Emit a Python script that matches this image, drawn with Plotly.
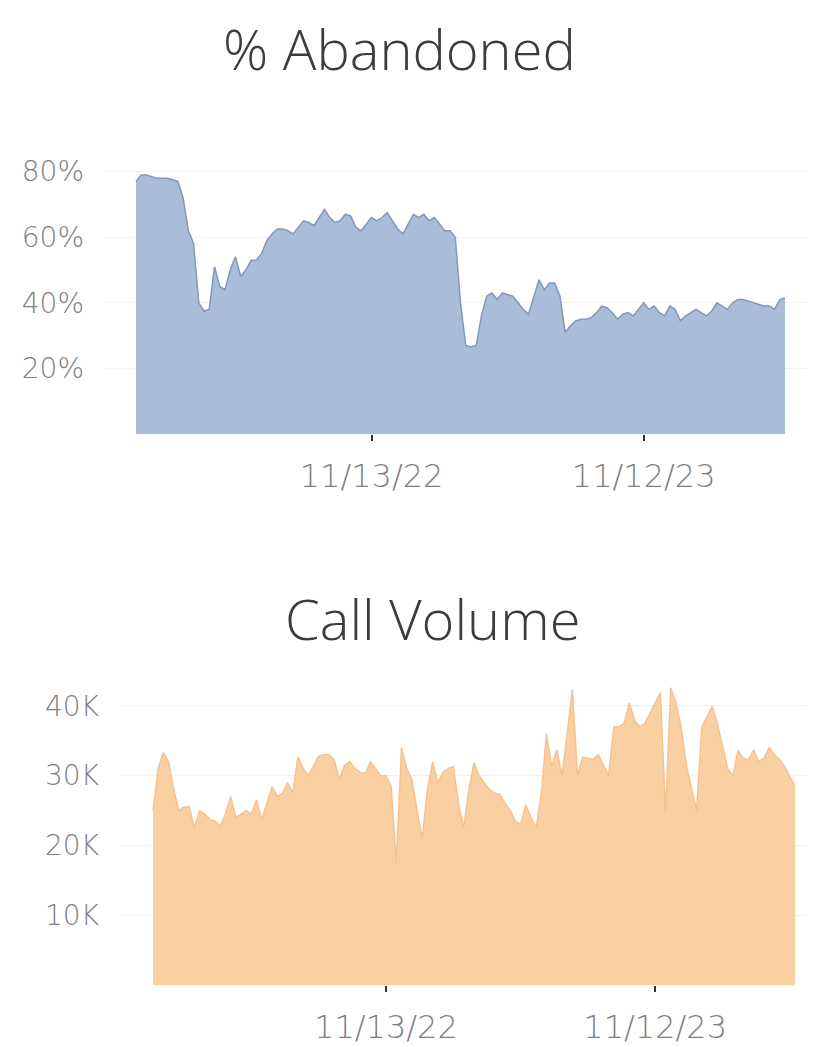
import pandas as pd
import plotly.graph_objects as go

# Weekly dates (week starting Sunday)
weeks = pd.date_range("2022-01-02", periods=125, freq="7D")

pct_abandoned = [
    77, 79, 79, 78.5, 78, 78, 78, 77.5, 77, 72,
    62, 58, 40, 37.5, 38, 51, 45, 44, 50, 54,
    48, 50, 53, 53, 55, 59, 61, 62.5, 62.5, 62,
    61, 63, 65, 64.5, 63.5, 66, 68.5, 66, 64.5, 65,
    67, 66.5, 63, 62, 64, 66, 65, 66, 67.5, 65,
    62.5, 61, 64, 67, 66, 67, 65, 66, 64, 62,
    62, 60, 40, 27, 26.5, 27, 36, 42, 43, 41,
    43, 42.5, 42, 40, 38, 36.5, 42, 47, 44, 46,
    46, 42, 31, 33, 34.5, 35, 35, 35.5, 37, 39,
    38.5, 37, 35, 36.5, 37, 36, 38, 40, 38, 39,
    37, 36, 39, 38, 34.5, 36, 37, 38, 37, 36,
    37.5, 40, 39, 38, 40, 41, 41, 40.5, 40, 39.5,
    39, 39, 38, 41, 41.5,
]

call_volume_k = [
    25, 31, 33.3, 32, 28, 25, 25.5, 25.5, 22.5, 25,
    24.5, 23.7, 23.5, 22.7, 24.5, 27, 24, 24.5, 25, 24.5,
    26.5, 23.7, 26, 28.4, 27, 27.5, 29, 27.5, 32.7, 31,
    30, 31.5, 32.8, 33, 33, 32.3, 29.4, 31.5, 32, 31,
    30.5, 30.3, 32, 31, 30, 30, 28.5, 17.5, 34, 31,
    29.5, 25, 21, 28, 32, 29, 30.5, 31, 31.3, 26,
    22.5, 28, 31.8, 30, 29, 28, 27.5, 27.3, 26, 25,
    23.5, 23, 25.8, 24, 22.5, 27.5, 36, 31.3, 33.7, 30,
    36, 42.3, 30, 32.7, 32.5, 32.3, 33, 31.5, 30, 37,
    37, 37.5, 40.4, 38, 37, 37.5, 39, 40.5, 41.9, 24.6,
    42.6, 40.5, 37, 31.5, 28, 25, 37, 38.5, 39.9, 37.5,
    34.4, 31, 30, 33.6, 32.5, 32.3, 33.7, 32, 32.5, 34,
    33, 32.3, 31.3, 30, 28.5,
]

tick_dates = ["2022-11-13", "2023-11-12"]
tick_labels = ["11/13/22", "11/12/23"]

abandoned = [v / 100 for v in pct_abandoned]
calls = [v * 1000 for v in call_volume_k]

# The page body has an 8px margin; size the figure to fit the window
OFF = 8
W, H = 814 - OFF, 1047 - OFF
TITLE_FONT = "Open Sans"
TICK_FONT = "DejaVu Sans"
TICK_COLOR = "#808080"
GRID = "#f0f0f0"

fig = go.Figure()

fig.add_trace(go.Scatter(
    x=weeks, y=abandoned, mode="lines", fill="tozeroy",
    line=dict(color="rgb(128,152,189)", width=1.5),
    fillcolor="rgb(170,189,216)",
    xaxis="x", yaxis="y", showlegend=False,
    hovertemplate="%{x|%m/%d/%y}: %{y:.0%}<extra></extra>",
))

fig.add_trace(go.Scatter(
    x=weeks, y=calls, mode="lines", fill="tozeroy",
    line=dict(color="rgb(246,194,144)", width=1.5),
    fillcolor="rgb(250,208,162)",
    xaxis="x2", yaxis="y2", showlegend=False,
    hovertemplate="%{x|%m/%d/%y}: %{y:,.0f}<extra></extra>",
))


def px_x(p):
    return (p - OFF) / W


def px_y(p):
    return 1 - (p - OFF) / H


# Top chart geometry (reference window pixels)
top_left, top_right, top_bottom, top_top = 105, 806, 434, 106
d0 = pd.Timestamp("2022-01-02")
wpx_top = (785 - 136) / 124.0
top_range = [d0 - pd.Timedelta(days=7 * (136 - top_left) / wpx_top),
             d0 + pd.Timedelta(days=7 * (top_right - 136) / wpx_top)]

# Bottom chart geometry
bot_left, bot_right, bot_bottom, bot_top = 120, 806, 985, 664
wpx_bot = (795 - 153) / 124.0
bot_range = [d0 - pd.Timedelta(days=7 * (153 - bot_left) / wpx_bot),
             d0 + pd.Timedelta(days=7 * (bot_right - 153) / wpx_bot)]

xcommon = dict(
    type="date", tickmode="array", tickvals=tick_dates, ticktext=tick_labels,
    showgrid=False, zeroline=False, showline=False,
    ticks="outside", ticklen=6, tickwidth=2, tickcolor="#333",
    tickfont=dict(family=TICK_FONT, size=32, color=TICK_COLOR, weight=200),
    ticklabelstandoff=8, fixedrange=True,
)

ycommon = dict(
    tickmode="array", showgrid=True, gridcolor=GRID, gridwidth=1,
    zeroline=False, showline=False, ticks="",
    tickfont=dict(family=TICK_FONT, size=28, color=TICK_COLOR, weight=200),
    ticklabelstandoff=20, fixedrange=True,
)

fig.update_layout(
    width=W, height=H,
    margin=dict(l=0, r=0, t=0, b=0),
    paper_bgcolor="white", plot_bgcolor="white",
    font=dict(family=TITLE_FONT, color="#333"),
    xaxis=dict(domain=[px_x(top_left), px_x(top_right)], anchor="y",
               range=top_range, **xcommon),
    yaxis=dict(domain=[px_y(top_bottom), px_y(top_top)], anchor="x",
               range=[0, 1.0],
               tickvals=[0.2, 0.4, 0.6, 0.8, 1.0],
               ticktext=["20%", "40%", "60%", "80%", ""], **ycommon),
    xaxis2=dict(domain=[px_x(bot_left), px_x(bot_right)], anchor="y2",
                range=bot_range, **xcommon),
    yaxis2=dict(domain=[px_y(bot_bottom), px_y(bot_top)], anchor="x2",
                range=[0, 46000],
                tickvals=[10000, 20000, 30000, 40000],
                ticktext=["10K", "20K", "30K", "40K"], **ycommon),
    annotations=[
        dict(text="% Abandoned", x=px_x(399), y=px_y(48), xref="paper", yref="paper",
             xanchor="center", yanchor="middle", showarrow=False,
             font=dict(family=TITLE_FONT, size=56, color="#3c3c3c", weight=300)),
        dict(text="Call Volume", x=px_x(432), y=px_y(618), xref="paper", yref="paper",
             xanchor="center", yanchor="middle", showarrow=False,
             font=dict(family=TITLE_FONT, size=56, color="#3c3c3c", weight=300)),
    ],
)

fig.write_html("out.html")
